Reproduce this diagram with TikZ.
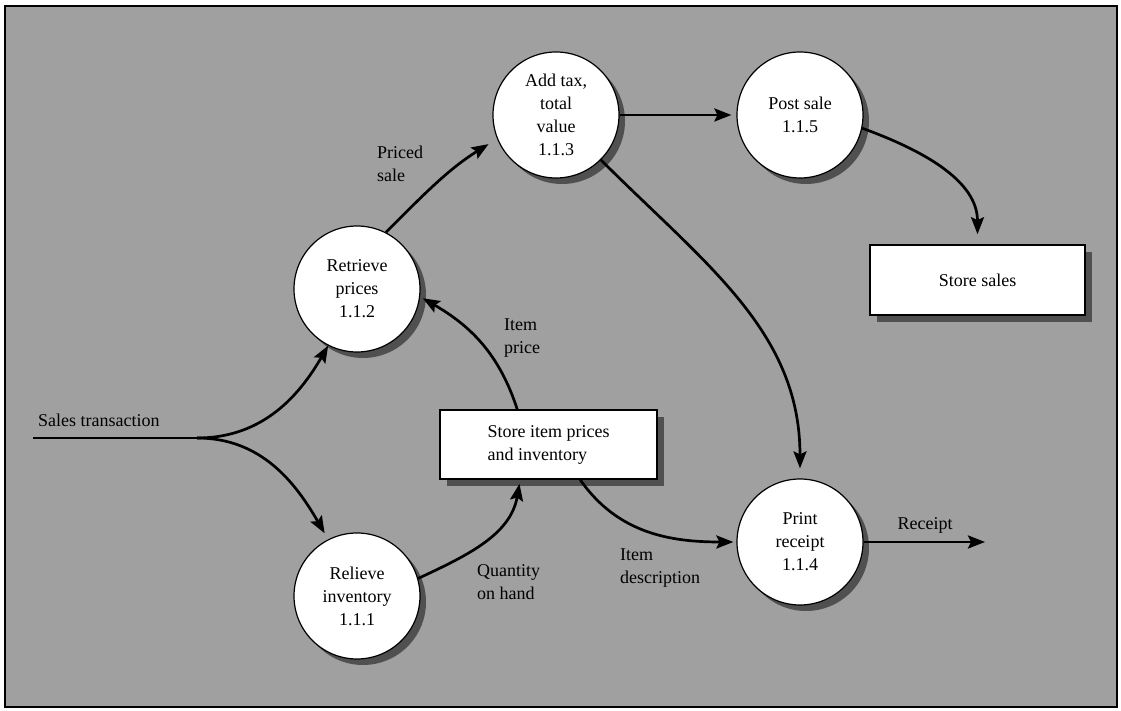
\documentclass[tikz,border=0pt]{standalone}
\usepackage{fontspec}
\setmainfont{Liberation Serif}
\usetikzlibrary{arrows.meta,shadows}
\definecolor{bg}{RGB}{160,160,160}
\definecolor{shade}{RGB}{80,80,80}
\begin{document}
\begin{tikzpicture}[x=1bp,y=1bp,
  every node/.style={font=\fontsize{18bp}{23bp}\selectfont},
  proc/.style={circle, draw=black, line width=1.2bp, fill=white, minimum size=126bp, inner sep=0pt, align=center,
    drop shadow={shadow xshift=6bp, shadow yshift=-6bp, fill=shade, opacity=1}},
  store/.style={rectangle, draw=black, line width=1.6bp, fill=white, inner sep=0pt,
    drop shadow={shadow xshift=7bp, shadow yshift=-7bp, fill=shade, opacity=1}},
  flow/.style={line width=2.7bp, -{Stealth[length=17bp,width=13bp,inset=3bp]}},
  lbl/.style={inner sep=0pt, align=left, anchor=west}
]
\useasboundingbox (0,0) rectangle (1121,711);
\fill[white] (0,0) rectangle (1121,711);
\draw[fill=bg, line width=1.5bp] (5,4) rectangle (1117,705);

% processes
\node[proc] (p112) at (357,422) {Retrieve\\prices\\1.1.2};
\node[proc] (p113) at (556,596) {Add tax,\\total\\value\\1.1.3};
\node[proc] (p115) at (800,596) {Post sale\\1.1.5};
\node[proc] (p111) at (357,115) {Relieve\\inventory\\1.1.1};
\node[proc] (p114) at (800,169) {Print\\receipt\\1.1.4};

% stores
\node[store, minimum width=217bp, minimum height=69bp, align=left] (sip) at (548.5,266.5) {Store item prices\\and inventory};
\node[store, minimum width=215bp, minimum height=70bp] (ss) at (977.5,431) {Store sales};

% free ends
\coordinate (st) at (33,273);
\coordinate (sp) at (197,273);
\coordinate (rc) at (985,169);

% connectors
\draw[line width=2.7bp] (st) -- (sp);
\draw[flow] (sp) to[out=0,in=240] (p112.243);
\draw[flow, shorten >=7bp] (sp) to[out=0,in=120] (p111.117);
\draw[flow, shorten >=4bp] (p111.16) to[out=25,in=-100] ([xshift=81bp]sip.south west);
\draw[flow, shorten >=3bp] ([xshift=78bp]sip.north west) to[out=108,in=-30] (p112.-7);
\draw[flow, shorten >=3bp] ([xshift=141bp]sip.south west) to[out=-55,in=180] (p114.west);
\draw[flow, shorten >=10bp] (p112.63) to[out=45,in=212] (p113.202);
\draw[flow, shorten >=5bp] (p113.east) -- (p115.west);
\draw[flow, shorten >=10bp] (p113.-45) to[out=-45,in=90] (p114.north);
\draw[flow, shorten >=10bp] (p115.-12) to[out=-20,in=90] (ss.north);
\draw[flow] (p114.east) -- (rc);

% labels
\node[lbl] (lst) at (38,291) {Sales transaction};
\node[lbl] (lps) at (377,547) {Priced\\sale};
\node[lbl] (lip) at (504,373) {Item\\price};
\node[lbl] (lqh) at (477,129) {Quantity\\on hand};
\node[lbl] (lid) at (620,143) {Item\\description};
\node[inner sep=0pt] (lr) at (925,186) {Receipt};
\end{tikzpicture}
\end{document}
